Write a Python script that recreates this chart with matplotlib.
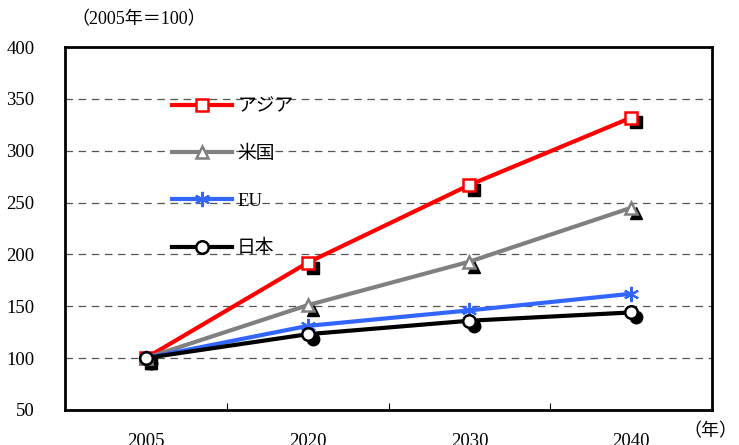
import matplotlib
matplotlib.use("Agg")
import matplotlib.pyplot as plt
import matplotlib.transforms as mtransforms

plt.rcParams['font.family'] = ['Liberation Serif', 'Noto Sans CJK JP']

years = ['2005', '2020', '2030', '2040']
asia = [100, 192, 267, 332]
usa = [100, 151, 193, 245]
eu = [100, 131, 146, 162]
japan = [100, 123, 136, 144]

series = [
    ('アジア', asia, '#ff0000', 's', 'white'),
    ('米国', usa, '#808080', '^', 'white'),
    ('EU', eu, '#3366ff', (6, 2, 0), '#3366ff'),
    ('日本', japan, '#000000', 'o', 'white'),
]

fig = plt.figure(figsize=(7.39, 4.45), dpi=100)
ax = fig.add_axes([0.088, 0.079, 0.8755, 0.815])

x = list(range(len(years)))
shadow = mtransforms.offset_copy(ax.transData, fig=fig, x=3.5, y=-3.5, units='points')

for name, vals, col, mk, face in series:
    star = mk == (6, 2, 0)
    # black drop shadow behind each marker
    if not star:
        ax.plot(x, vals, linestyle='none', marker=mk, markersize=9,
                color='black', transform=shadow, zorder=2)
    ax.plot(x, vals, color=col, lw=3, marker=mk, markersize=11 if star else 9,
            markerfacecolor=face, markeredgecolor=col,
            markeredgewidth=1.5 if star else 1.8,
            label=name, zorder=3)

ax.set_xlim(-0.5, 3.5)
ax.set_ylim(50, 400)
ax.set_yticks(range(50, 401, 50))
ax.yaxis.grid(True, linestyle=(0, (6, 4.5)), color='#555555', lw=0.9)
ax.set_axisbelow(True)

ax.set_xticks(x)
ax.set_xticklabels(years, fontsize=13.5)
ax.set_xticks([0.5, 1.5, 2.5], minor=True)
ax.tick_params(axis='x', which='major', length=0, pad=17)
ax.tick_params(axis='x', which='minor', direction='in', length=5, width=0.8)
ax.tick_params(axis='y', length=0, pad=22, labelsize=13.5)

for s in ax.spines.values():
    s.set_linewidth(2)

ax.legend(loc='upper left', bbox_to_anchor=(0.14, 0.905), frameon=False,
          fontsize=13.5, handlelength=3.2, handletextpad=0.25, labelspacing=1.6)

fig.text(0.097, 0.955, '（2005年＝100）', fontsize=13, ha='left', va='center')
fig.text(0.925, 0.03, '（年）', fontsize=13, ha='left', va='center')

fig.savefig('out.png', dpi=100)
